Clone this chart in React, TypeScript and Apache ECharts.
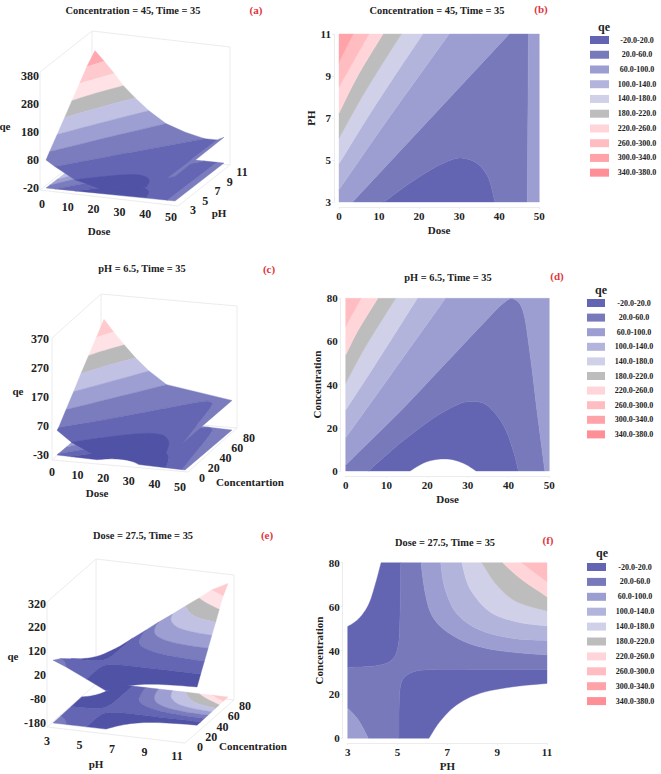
import { useEffect, useRef } from 'react';
import * as echarts from 'echarts';

type Vertex = [number, number, number];
type Piece = [number, Vertex[]];
type Pt = [number, number];

const FONT = 'Liberation Serif';
const INK = '#222222';
const RED = '#e0343c';
const FAINT = '#ececec';

// legend
const bandLabels = ['-20.0-20.0', '20.0-60.0', '60.0-100.0', '100.0-140.0', '140.0-180.0', '180.0-220.0', '220.0-260.0', '260.0-300.0', '300.0-340.0', '340.0-380.0'];
const contourColors = ['#6365b2', '#7779bb', '#9c9dd0', '#b3b4dc', '#d0d0e8', '#bdbdbd', '#ffd5d9', '#ffbdc2', '#ffa3a9', '#ff8f96'];
const surfaceColors = ['#5052a6', '#6466b3', '#7a7cbd', '#9d9ed1', '#c0c1e3', '#bababa', '#ffe2e5', '#ffcace', '#ffa8b0', '#ff8f96'];

// ticks
const doseTicks = [0, 10, 20, 30, 40, 50];
const phTicks = [3, 5, 7, 9, 11];
const concTicks = [0, 20, 40, 60, 80];
const qeTicksA = [-20, 80, 180, 280, 380];
const qeTicksC = [-30, 70, 170, 270, 370];
const qeTicksE = [-180, -80, 20, 120, 220, 320];

// contour lines: Dose / pH, Concentration = 45
const ab20: Pt[] = [[11.2, 3], [17.7, 3.9], [23.5, 4.6], [27.7, 4.98], [30.6, 5.09], [34.4, 4.85], [37.3, 4.14], [38.9, 3]];
const ab60: Pt[] = [[3.4, 3], [42.5, 11]];
const ab60r: Pt[] = [[47, 3], [47.3, 11]];
const ab100: Pt[] = [[0, 3.59], [12.7, 7.07], [27.5, 11]];
const ab140: Pt[] = [[0, 4.82], [9.4, 7.7], [20.9, 11]];
const ab180: Pt[] = [[0, 6.04], [6.9, 8.37], [15.6, 11]];
const ab220: Pt[] = [[0, 7.23], [4.8, 9.05], [11, 11]];
const ab260: Pt[] = [[0, 8.47], [7.5, 11]];
const ab300: Pt[] = [[0, 9.65], [3.6, 11]];

// Dose / Concentration, pH = 6.5
const cdm20: Pt[] = [[15.8, 0], [19.9, 4.3], [24.8, 5.6], [28.9, 3.6], [32, 0]];
const cd20: Pt[] = [[5.6, 0], [13.3, 12.8], [21.5, 24.4], [27.3, 30.6], [30.5, 32.1], [34.6, 30.6], [38.7, 21.3], [41.2, 9], [42.4, 0]];
const cd60: Pt[] = [[0, 2.8], [13.3, 27.5], [25.6, 52], [34.6, 70], [38.7, 77.7], [41.2, 79.7], [43.6, 73.8], [45.3, 53.7], [47, 27.5], [48.9, 0]];
const cd100: Pt[] = [[0, 15.4], [10.5, 43], [24.5, 80]];
const cd140: Pt[] = [[0, 28.3], [7.5, 50], [17.6, 80]];
const cd180: Pt[] = [[0, 40.6], [5, 58], [12.3, 80]];
const cd220: Pt[] = [[0, 53.7], [3, 65], [7.9, 80]];
const cd260: Pt[] = [[0, 66.9], [3.8, 80]];

// pH / Concentration, Dose = 27.5
const efm20a: Pt[] = [[3, 50.9], [3.43, 54.3], [3.83, 60.7], [4.1, 69.8], [4.34, 80]];
const efm20b: Pt[] = [[6.26, 0], [6.7, 7.6], [7.37, 15.2], [8.31, 20.5], [9.65, 23.5], [11, 25]];
const ef20a: Pt[] = [[3, 32.3], [4.16, 33.1], [4.77, 35.7], [5.03, 42.5], [5.1, 56.2], [5.13, 80]];
const ef20b: Pt[] = [[5.06, 0], [5.07, 16.7], [5.17, 25.8], [5.57, 30], [6.44, 31.4], [8, 31.4], [11, 31.4]];
const ef60a: Pt[] = [[3, 13.7], [3.43, 8.3], [3.83, 0]];
const ef60b: Pt[] = [[5.94, 80], [6.1, 66.8], [6.37, 56.2], [6.97, 48.6], [8.04, 42.5], [9.38, 39.5], [11, 38]];
const ef100: Pt[] = [[6.73, 80], [6.9, 68.3], [7.37, 56.9], [8.31, 49.3], [9.65, 45.5], [11, 44.6]];
const ef140: Pt[] = [[7.58, 80], [7.9, 68.3], [8.7, 57.7], [9.8, 53], [11, 51.2]];
const ef180: Pt[] = [[8.38, 80], [8.98, 69.8], [9.78, 62.2], [11, 58]];
const ef220: Pt[] = [[9.22, 80], [9.92, 72.9], [11, 64.5]];
const ef260: Pt[] = [[9.98, 80], [10.45, 75.9], [11, 71.3]];

// same job as smooth: true on a line series: a spline through the read points
const spline = (pts: Pt[]): Pt[] => {
    if (pts.length < 3) return pts;
    const out: Pt[] = [];
    for (let i = 0; i < pts.length - 1; i++) {
        const p0 = pts[Math.max(i - 1, 0)];
        const p1 = pts[i];
        const p2 = pts[i + 1];
        const p3 = pts[Math.min(i + 2, pts.length - 1)];
        for (let k = 0; k < 6; k++) {
            const t = k / 6;
            const h = (a: number, b: number, c: number, d: number) =>
                0.5 * (2 * b + (c - a) * t + (2 * a - 5 * b + 4 * c - d) * t * t + (3 * b - a - 3 * c + d) * t * t * t);
            out.push([h(p0[0], p1[0], p2[0], p3[0]), h(p0[1], p1[1], p2[1], p3[1])]);
        }
    }
    out.push(pts[pts.length - 1]);
    return out;
};

const at = (level: number, pts: Pt[]): Vertex[] => spline(pts).map(p => [p[0], p[1], level] as Vertex);
const back = (level: number, pts: Pt[]): Vertex[] => at(level, pts).reverse();

const abPieces: Piece[] = [
    [8, [...at(300, ab300), [0, 11, 335]]],
    [7, [...at(260, ab260), ...back(300, ab300)]],
    [6, [...at(220, ab220), ...back(260, ab260)]],
    [5, [...at(180, ab180), ...back(220, ab220)]],
    [4, [...at(140, ab140), ...back(180, ab180)]],
    [3, [...at(100, ab100), ...back(140, ab140)]],
    [2, [[0, 3, 80], ...at(60, ab60), [35, 11, 76], ...back(100, ab100)]],
    [2, [...at(60, ab60r), [50, 11, 72], [50, 3, 68]]],
    [1, [...at(60, ab60), ...back(60, ab60r), ...back(20, ab20)]],
    [0, [...at(20, ab20), [25, 3, -12]]],
];

const cdPieces: Piece[] = [
    [7, [...at(260, cd260), [0, 80, 300]]],
    [6, [...at(220, cd220), ...back(260, cd260)]],
    [5, [...at(180, cd180), ...back(220, cd220)]],
    [4, [...at(140, cd140), ...back(180, cd180)]],
    [3, [...at(100, cd100), ...back(140, cd140)]],
    [2, [...at(60, cd60), [50, 0, 70], [50, 80, 72], ...back(100, cd100)]],
    [1, [[0, 0, 55], ...at(60, cd60), ...back(20, cd20)]],
    [0, [...at(20, cd20), ...back(-20, cdm20)]],
];

const efPieces: Piece[] = [
    [7, [...at(260, ef260), [11, 80, 295]]],
    [6, [...at(220, ef220), ...back(260, ef260)]],
    [5, [...at(180, ef180), ...back(220, ef220)]],
    [4, [...at(140, ef140), ...back(180, ef180)]],
    [3, [...at(100, ef100), ...back(140, ef140)]],
    [2, [...at(60, ef60b), ...back(100, ef100)]],
    [2, [[3, 0, 83], ...back(60, ef60a)]],
    [1, [...at(60, ef60b), ...back(20, ef20b), ...back(60, ef60a), ...at(20, ef20a)]],
    [0, [...at(-20, efm20a), ...back(20, ef20a)]],
    [0, [...at(20, ef20b), ...back(-20, efm20b)]],
];

// oblique view of each 3d panel, page pixels
const sceneA = {
    pieces: abPieces, name: 'a', xDomain: [0, 50], yDomain: [3, 11], floor: -20,
    origin: [46, 188], xVec: [129, 13], yVec: [49, -38], zScale: 0.28,
    box: { fl: [40, 190], fr: [178, 206], br: [230, 165], height: 118 },
    xTicks: doseTicks, yTicks: phTicks, qeTicks: qeTicksA,
    xOffset: [-4, 16], yOffset: [18, 9], qeRight: 39,
    xName: ['Dose', 99, 231], yName: ['pH', 219, 213], qeName: [5, 126],
};
const sceneC = {
    pieces: cdPieces, name: 'c', xDomain: [0, 50], yDomain: [0, 80], floor: -30,
    origin: [57, 455], xVec: [128, 15], yVec: [47, -40], zScale: 0.29,
    box: { fl: [52, 460], fr: [188, 472], br: [237, 428], height: 122 },
    xTicks: doseTicks, yTicks: concTicks, qeTicks: qeTicksC,
    xOffset: [-5, 17], yOffset: [17, 8], qeRight: 49,
    xName: ['Dose', 97, 493], yName: ['Concentartion', 250, 482], qeName: [18, 391],
};
const sceneE = {
    pieces: efPieces, name: 'e', xDomain: [3, 11], yDomain: [0, 80], floor: -180,
    origin: [53, 723], xVec: [130, 15], yVec: [45, -41], zScale: 0.239,
    box: { fl: [47, 727], fr: [185, 743], br: [234, 700], height: 125 },
    xTicks: phTicks, yTicks: concTicks, qeTicks: qeTicksE,
    xOffset: [-6, 18], yOffset: [17, 9], qeRight: 46,
    xName: ['pH', 96, 764], yName: ['Concentration', 253, 746], qeName: [13, 656],
};

type Scene = typeof sceneA;

const project = (s: Scene, v: Vertex): Pt => {
    const u = (v[0] - s.xDomain[0]) / (s.xDomain[1] - s.xDomain[0]);
    const w = (v[1] - s.yDomain[0]) / (s.yDomain[1] - s.yDomain[0]);
    return [
        s.origin[0] + u * s.xVec[0] + w * s.yVec[0],
        s.origin[1] + u * s.xVec[1] + w * s.yVec[1] - (v[2] - s.floor) * s.zScale,
    ];
};

const boldText = (size: number, color = INK) => ({
    fontFamily: FONT,
    fontWeight: 'bold' as const,
    fontSize: size,
    color,
});

// hidden grid 0 carries the 3d panels, its axes run in page pixels
const surfaceSeries = (s: Scene, flat: boolean) => ({
    type: 'custom',
    name: `${s.name}-${flat ? 'floor' : 'surface'}`,
    coordinateSystem: 'cartesian2d',
    xAxisIndex: 0,
    yAxisIndex: 0,
    silent: true,
    clip: false,
    data: s.pieces.map((_, i) => [i, 0]),
    encode: { x: 0, y: 1 },
    renderItem: (params: any, api: any) => {
        const [band, verts] = s.pieces[params.dataIndex];
        const color = surfaceColors[band];
        return {
            type: 'polygon',
            shape: {
                points: verts.map(v => api.coord(project(s, flat ? [v[0], v[1], s.floor] : v))),
            },
            style: { fill: color, stroke: color, lineWidth: 0.4 },
        };
    },
});

const boxSeries = (s: Scene) => ({
    type: 'custom',
    name: `${s.name}-box`,
    coordinateSystem: 'cartesian2d',
    xAxisIndex: 0,
    yAxisIndex: 0,
    silent: true,
    clip: false,
    data: [[0, 0]],
    encode: { x: 0, y: 1 },
    renderItem: (_: any, api: any) => {
        const { fl, fr, br, height } = s.box;
        const bl = [fl[0] + br[0] - fr[0], fl[1] + br[1] - fr[1]];
        const up = (p: number[]) => [p[0], p[1] - height];
        const edges = [
            [fl, fr], [fr, br], [br, bl], [bl, fl],
            [fl, up(fl)], [bl, up(bl)], [br, up(br)],
            [up(fl), up(bl)], [up(bl), up(br)],
        ];
        const children: any[] = edges.map(([a, b]) => {
            const p = api.coord(a);
            const q = api.coord(b);
            return {
                type: 'line',
                shape: { x1: p[0], y1: p[1], x2: q[0], y2: q[1] },
                style: { stroke: FAINT, lineWidth: 1 },
            };
        });
        return { type: 'group', children };
    },
});

const labelSeries = (s: Scene) => ({
    type: 'custom',
    name: `${s.name}-labels`,
    coordinateSystem: 'cartesian2d',
    xAxisIndex: 0,
    yAxisIndex: 0,
    silent: true,
    clip: false,
    data: [[0, 0]],
    encode: { x: 0, y: 1 },
    renderItem: (_: any, api: any) => {
        const label = (text: string | number, pos: number[], size: number, align = 'center') => {
            const p = api.coord(pos);
            return {
                type: 'text',
                style: {
                    text: String(text), x: p[0], y: p[1], align, verticalAlign: 'middle',
                    fill: INK, font: `bold ${size}px "${FONT}"`,
                },
            };
        };
        const children: any[] = [];
        s.xTicks.forEach(t => {
            const p = project(s, [t, s.yDomain[0], s.floor]);
            children.push(label(t, [p[0] + s.xOffset[0], p[1] + s.xOffset[1]], 12));
        });
        s.yTicks.forEach(t => {
            const p = project(s, [s.xDomain[1], t, s.floor]);
            children.push(label(t, [p[0] + s.yOffset[0], p[1] + s.yOffset[1]], 12));
        });
        s.qeTicks.forEach(t => {
            const y = project(s, [s.xDomain[0], s.yDomain[0], t])[1];
            children.push(label(t, [s.qeRight, y], 12, 'right'));
        });
        children.push(label(s.xName[0], [s.xName[1] as number, s.xName[2] as number], 11));
        children.push(label(s.yName[0], [s.yName[1] as number, s.yName[2] as number], 11));
        children.push(label('qe', s.qeName, 11));
        return { type: 'group', children };
    },
});

// one series per legend entry on a contour panel
const contourSeries = (pieces: Piece[], axis: number) =>
    bandLabels.map((label, band) => {
        const own = pieces.filter(p => p[0] === band);
        return {
            type: 'custom',
            name: label,
            coordinateSystem: 'cartesian2d',
            xAxisIndex: axis,
            yAxisIndex: axis,
            silent: true,
            itemStyle: { color: contourColors[band] },
            data: own.map((_, i) => [i, 0]),
            encode: { x: 0, y: 1 },
            renderItem: (params: any, api: any) => ({
                type: 'polygon',
                shape: { points: own[params.dataIndex][1].map(v => api.coord([v[0], v[1]])) },
                style: { fill: contourColors[band], stroke: contourColors[band], lineWidth: 0.4 },
            }),
        };
    });

const xAxisOf = (gridIndex: number, name: string, min: number, max: number, ticks: number[]) => ({
    gridIndex, type: 'value', name, min, max,
    nameLocation: 'middle', nameGap: 17, nameTextStyle: boldText(11),
    offset: 5,
    splitLine: { show: false },
    axisLine: { show: true, onZero: false, lineStyle: { color: FAINT } },
    axisTick: { length: 2, lineStyle: { color: FAINT }, customValues: ticks },
    axisLabel: { ...boldText(11), margin: 3, customValues: ticks, hideOverlap: false },
});

const yAxisOf = (gridIndex: number, name: string, min: number, max: number, ticks: number[], nameGap: number) => ({
    gridIndex, type: 'value', name, min, max,
    nameLocation: 'middle', nameGap, nameTextStyle: boldText(11),
    offset: 5,
    splitLine: { show: false },
    axisLine: { show: true, onZero: false, lineStyle: { color: FAINT } },
    axisTick: { length: 2, lineStyle: { color: FAINT }, customValues: ticks },
    axisLabel: { ...boldText(11), margin: 3, customValues: ticks },
});

const legendOf = (left: number, top: number, itemWidth: number, spacing: number, labelWidth: number) => ({
    left, top, padding: 0,
    orient: 'vertical',
    icon: 'rect',
    selectedMode: false,
    itemWidth,
    itemHeight: 8,
    itemGap: spacing - 8,
    data: bandLabels,
    formatter: (name: string) => `{c|${name}}`,
    textStyle: {
        rich: { c: { ...boldText(8), width: labelWidth, align: 'center', lineHeight: 8 } },
    },
});

const titleOf = (text: string, left: number, top: number, size = 10.4, color = INK) => ({
    text, left, top, padding: 0,
    textAlign: 'center',
    textVerticalAlign: 'middle',
    textStyle: boldText(size, color),
});

const App = () => {
    const chartRef = useRef<HTMLDivElement>(null);

    useEffect(() => {
        document.body.style.margin = '0';
        if (!chartRef.current) return;
        const chart = echarts.init(chartRef.current, undefined, { renderer: 'svg' });

        chart.setOption({
            animation: false,
            backgroundColor: '#ffffff',
            title: [
                titleOf('Concentration = 45, Time = 35', 133, 10),
                titleOf('(a)', 256, 10, 11, RED),
                titleOf('Concentration = 45, Time = 35', 437, 10),
                titleOf('(b)', 541, 9, 11, RED),
                titleOf('pH = 6.5, Time = 35', 142, 268),
                titleOf('(c)', 269, 269, 11, RED),
                titleOf('pH = 6.5, Time = 35', 448, 277),
                titleOf('(d)', 557, 276, 11, RED),
                titleOf('Dose = 27.5, Time = 35', 143, 535),
                titleOf('(e)', 267, 535, 11, RED),
                titleOf('Dose = 27.5, Time = 35', 445, 542),
                titleOf('(f)', 548, 540, 11, RED),
                titleOf('qe', 604, 27, 12),
                titleOf('qe', 601, 290, 12),
                titleOf('qe', 602, 553, 12),
            ],
            legend: [
                legendOf(590, 36, 19, 14.74, 46),
                legendOf(587, 299, 18, 14.6, 48),
                legendOf(587, 563, 19, 14.9, 48),
            ],
            grid: [
                { left: 0, top: 0, width: 661, height: 774, show: false },
                { left: 339, top: 34, width: 200.3, height: 168 },
                { left: 345.7, top: 298.3, width: 203.6, height: 172.7 },
                { left: 347.7, top: 562.7, width: 199.3, height: 175.6 },
            ],
            xAxis: [
                { gridIndex: 0, type: 'value', min: 0, max: 661, show: false },
                xAxisOf(1, 'Dose', 0, 50, doseTicks),
                xAxisOf(2, 'Dose', 0, 50, doseTicks),
                xAxisOf(3, 'PH', 3, 11, phTicks),
            ],
            yAxis: [
                { gridIndex: 0, type: 'value', min: 0, max: 774, inverse: true, show: false },
                yAxisOf(1, 'PH', 3, 11, phTicks, 15),
                yAxisOf(2, 'Concentration', 0, 80, concTicks, 18),
                yAxisOf(3, 'Concentration', 0, 80, concTicks, 18),
            ],
            series: [
                ...[sceneA, sceneC, sceneE].flatMap((s: any) => [
                    boxSeries(s),
                    surfaceSeries(s, true),
                    surfaceSeries(s, false),
                    labelSeries(s),
                ]),
                ...contourSeries(abPieces, 1),
                ...contourSeries(cdPieces, 2),
                ...contourSeries(efPieces, 3),
            ],
        });

        return () => {
            chart.dispose();
        };
    }, []);

    return <div ref={chartRef} style={{ width: 661, height: 774 }} />;
};

export default App;
